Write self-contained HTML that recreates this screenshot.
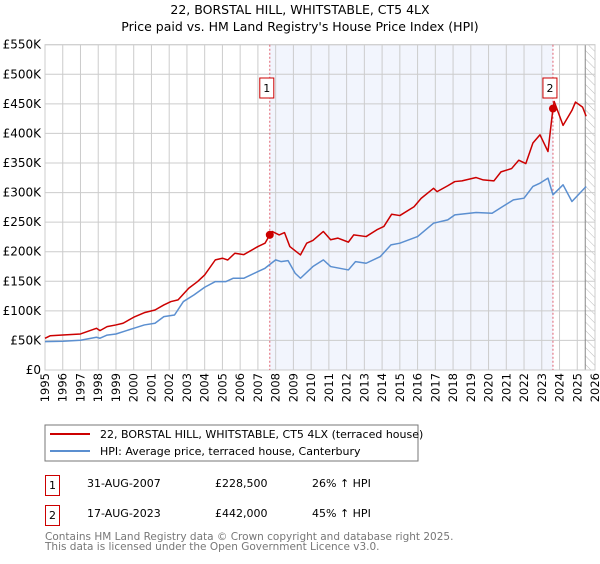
<!DOCTYPE html>
<html><head><meta charset="utf-8"><style>
body{margin:0;background:#fff;font-family:"DejaVu Sans","Liberation Sans",sans-serif;}
svg text{font-family:"DejaVu Sans","Liberation Sans",sans-serif;}
</style></head><body>
<svg id="c" width="600" height="560" xmlns="http://www.w3.org/2000/svg">
<defs><pattern id="hatch" width="6" height="6" patternUnits="userSpaceOnUse" patternTransform="rotate(-45)"><line x1="0" y1="0" x2="0" y2="6" stroke="#bbb" stroke-width="1"/></pattern></defs>
<text x="300" y="14" text-anchor="middle" font-size="12.5">22, BORSTAL HILL, WHITSTABLE, CT5 4LX</text>
<text x="300" y="31" text-anchor="middle" font-size="12.5">Price paid vs. HM Land Registry's House Price Index (HPI)</text>
<g id="plot"></g>
<rect x="45" y="425" width="373" height="36" fill="#fff" stroke="#777"/>
<line x1="50" y1="434" x2="90" y2="434" stroke="#cc0000" stroke-width="2"/>
<text x="100" y="438" font-size="11">22, BORSTAL HILL, WHITSTABLE, CT5 4LX (terraced house)</text>
<line x1="50" y1="451" x2="90" y2="451" stroke="#5b8fd0" stroke-width="2"/>
<text x="100" y="455" font-size="11">HPI: Average price, terraced house, Canterbury</text>
<g font-size="11">
<rect x="45.5" y="475.5" width="14" height="20" fill="none" stroke="#cc0000"/><text x="52.5" y="489" text-anchor="middle">1</text>
<text x="87" y="487">31-AUG-2007</text><text x="215" y="487">£228,500</text><text x="312" y="487">26% ↑ HPI</text>
<rect x="45.5" y="505.5" width="14" height="20" fill="none" stroke="#cc0000"/><text x="52.5" y="519" text-anchor="middle">2</text>
<text x="87" y="517">17-AUG-2023</text><text x="215" y="517">£442,000</text><text x="312" y="517">45% ↑ HPI</text>
</g>
<text x="45" y="540" font-size="10.5" fill="#777">Contains HM Land Registry data © Crown copyright and database right 2025.</text>
<text x="45" y="550" font-size="10.5" fill="#777">This data is licensed under the Open Government Licence v3.0.</text>
</svg>
<script>
const yTicks=[0,50,100,150,200,250,300,350,400,450,500,550];
const yTickLabels=["£0","£50K","£100K","£150K","£200K","£250K","£300K","£350K","£400K","£450K","£500K","£550K"];
const xYears=[1995,1996,1997,1998,1999,2000,2001,2002,2003,2004,2005,2006,2007,2008,2009,2010,2011,2012,2013,2014,2015,2016,2017,2018,2019,2020,2021,2022,2023,2024,2025,2026];
const redYears=[1995,1995.3,1996,1997,1997.9,1998.1,1998.5,1999,1999.4,2000,2000.6,2001.2,2001.7,2002.1,2002.5,2003.1,2003.6,2004,2004.6,2005,2005.3,2005.7,2006.2,2007,2007.4,2007.67,2007.8,2008.2,2008.5,2008.8,2009.4,2009.75,2010.1,2010.69,2011.1,2011.5,2012.1,2012.4,2013.1,2013.7,2014.1,2014.54,2015,2015.8,2016.2,2016.9,2017.1,2017.7,2018.1,2018.5,2019.3,2019.7,2020.3,2020.7,2021.3,2021.7,2022.1,2022.5,2022.9,2023.35,2023.63,2023.7,2024.2,2024.7,2024.9,2025.3,2025.5];
const redVals=[53.6,58,59.2,60.9,70.5,66.6,73.3,76.2,79,89.2,97,101.5,110,115.7,118.5,138.2,149.5,160.8,186.2,189,186,197.4,195,208.7,214.4,228.5,234.2,228.4,232.3,208.7,194.6,214.4,219,234.2,220.2,223,216.2,228.4,225.6,237,242.7,263.4,261.1,276,290.2,307.2,301.6,311.5,318.6,319.7,325.4,321.4,319.7,335,340.6,354.7,349,383.8,397.7,369.4,442,454,413.6,438.9,453,444.4,429];
const blueYears=[1995,1996,1997,1997.9,1998.1,1998.5,1999,2000,2000.6,2001.2,2001.7,2002.3,2002.8,2003.4,2004,2004.6,2005.2,2005.6,2006.2,2007,2007.4,2008,2008.3,2008.7,2009.1,2009.4,2010.1,2010.69,2011.1,2012.1,2012.5,2013.1,2013.9,2014.5,2015,2016,2016.9,2017.7,2018.1,2019.3,2020.2,2020.8,2021.4,2022,2022.5,2022.9,2023.35,2023.63,2024.2,2024.7,2025.5];
const blueVals=[48,48.6,50.3,55.4,53.7,59,60.9,70.5,76.2,79,90.2,93,115.7,127,139.9,149.5,149.5,155.1,155.1,166.4,172,186.2,183.3,185,163.6,155.1,174.9,186.2,174.9,169.2,183.3,180.5,191.8,211.6,214.4,225.6,248.2,253.8,262.3,266.3,265.1,276.4,287.7,290.5,310.3,315.9,324.4,296.2,313.1,284.9,310.3,296.2];
const sales=[[2007.67,228.5,"1"],[2023.63,442,"2"]];
const L=45,R=595,T=44.7,B=370;
const x=v=>L+(v-1995)/31*(R-L);
const y=v=>B-v/550*(B-T);
const NS="http://www.w3.org/2000/svg",g=document.getElementById('plot');
function mk(t,a,p){const e=document.createElementNS(NS,t);for(const k in a)e.setAttribute(k,a[k]);(p||g).appendChild(e);return e;}
const sh=mk('rect',{x:x(2007.67),y:T,width:x(2023.63)-x(2007.67),height:B-T,fill:'#eef2fc',opacity:0.75});


const ht=mk('rect',{x:x(2025.45),y:T,width:R-x(2025.45),height:B-T,fill:'url(#hatch)'});


yTicks.forEach((v,i)=>{const l=mk('line',{x1:L,x2:R,y1:y(v),y2:y(v),stroke:'#ccc'});


const t=mk('text',{x:L-4,y:y(v)+4,'text-anchor':'end','font-size':12});t.textContent=yTickLabels[i];

});
xYears.forEach(v=>{const l=mk('line',{x1:x(v),x2:x(v),y1:T,y2:B,stroke:'#ccc'});


const t=mk('text',{x:0,y:0,'font-size':11.5,'text-anchor':'end',transform:`translate(${x(v)+4},${B+3}) rotate(-90)`});t.textContent=v;

});
mk('line',{x1:x(2025.45),x2:x(2025.45),y1:T,y2:B,stroke:'#888'});
const ax=mk('rect',{x:L,y:T,width:R-L,height:B-T,fill:'none',stroke:'#ccc'});


sales.forEach(s=>{const l=mk('line',{x1:x(s[0]),x2:x(s[0]),y1:T,y2:B,stroke:'#e06070','stroke-dasharray':'2,2'});

});
function line(xs,vs,col,name){const p=mk('polyline',{points:xs.map((a,i)=>x(a)+','+y(vs[i])).join(' '),fill:'none',stroke:col,'stroke-width':1.5,'stroke-linejoin':'round'});

}
line(blueYears,blueVals,'#5b8fd0','hpi-line');
line(redYears,redVals,'#cc0000','price-paid-line');
sales.forEach(s=>{const c=mk('circle',{cx:x(s[0]),cy:y(s[1]),r:4,fill:'#cc0000'});


const bx=mk('rect',{x:x(s[0])-10,y:78,width:14,height:20,fill:'#fff',stroke:'#cc0000'});


const t=mk('text',{x:x(s[0])-3,y:92,'text-anchor':'middle','font-size':11});t.textContent=s[2];

});
</script>
</body></html>
